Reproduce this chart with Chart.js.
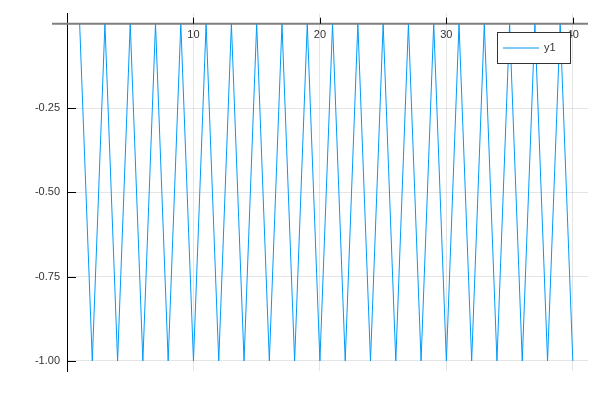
<!DOCTYPE html>
<html>
<head>
<meta charset="utf-8">
<script src="https://cdn.jsdelivr.net/npm/chart.js@4/dist/chart.umd.min.js"></script>
<style>
html,body{margin:0;padding:0;background:#fff;}
#wrap{width:600px;height:400px;}
</style>
</head>
<body>
<div id="wrap"><canvas id="c" width="600" height="400"></canvas></div>
<script>
// ---- data ----
const xValues = [1,2,3,4,5,6,7,8,9,10,11,12,13,14,15,16,17,18,19,20,21,22,23,24,25,26,27,28,29,30,31,32,33,34,35,36,37,38,39,40];
const yValues = [0,-1,0,-1,0,-1,0,-1,0,-1,0,-1,0,-1,0,-1,0,-1,0,-1,0,-1,0,-1,0,-1,0,-1,0,-1,0,-1,0,-1,0,-1,0,-1,0,-1];
const seriesName = 'y1';
const xTicks = [10, 20, 30, 40];
const yTicks = [-0.25, -0.5, -0.75, -1.0];
const yTickLabels = ['-0.25', '-0.50', '-0.75', '-1.00'];

const FONT = '"Liberation Sans", Arial, Helvetica, sans-serif';
const TEXT = '#333333';
const BLUE = '#009AFA';

const decor = {
  id: 'decor',
  afterDatasetsDraw(chart) {
    const ctx = chart.ctx;
    const xs = chart.scales.x, ys = chart.scales.y;
    const ca = chart.chartArea;
    const y0 = ys.getPixelForValue(0);
    ctx.save();
    // zero axis line (extends left past the frame)
    ctx.strokeStyle = '#7f7f7f';
    ctx.lineWidth = 2;
    ctx.beginPath();
    ctx.moveTo(ca.left - 15, y0);
    ctx.lineTo(ca.right, y0);
    ctx.stroke();
    // x tick marks above axis
    ctx.strokeStyle = '#000';
    ctx.lineWidth = 1;
    xTicks.forEach(v => {
      const px = Math.round(xs.getPixelForValue(v)) + 0.5;
      ctx.beginPath();
      ctx.moveTo(px, y0 - 6);
      ctx.lineTo(px, y0);
      ctx.stroke();
    });
    // y tick marks inside
    yTicks.forEach(v => {
      const py = Math.round(ys.getPixelForValue(v)) + 0.5;
      ctx.beginPath();
      ctx.moveTo(ca.left, py);
      ctx.lineTo(ca.left + 9, py);
      ctx.stroke();
    });
    ctx.restore();
  },
  afterDraw(chart) {
    const ctx = chart.ctx;
    const ds = chart.data.datasets[0];
    ctx.save();
    const bx = 497.5, by = 32.5, bw = 73, bh = 31;
    ctx.fillStyle = '#fff';
    ctx.fillRect(bx, by, bw, bh);
    ctx.strokeStyle = '#333';
    ctx.lineWidth = 1;
    ctx.strokeRect(bx, by, bw, bh);
    ctx.strokeStyle = ds.borderColor;
    ctx.lineWidth = 1;
    ctx.beginPath();
    ctx.moveTo(503, 48);
    ctx.lineTo(539, 48);
    ctx.stroke();
    ctx.fillStyle = TEXT;
    ctx.font = '11px ' + FONT;
    ctx.textBaseline = 'middle';
    ctx.textAlign = 'left';
    ctx.fillText(ds.label, 544, 48);
    ctx.restore();
  }
};

new Chart(document.getElementById('c'), {
  type: 'line',
  data: {
    datasets: [{
      label: seriesName,
      data: xValues.map((x, i) => ({x: x, y: yValues[i]})),
      borderColor: BLUE,
      backgroundColor: BLUE,
      borderWidth: 1,
      pointRadius: 0,
      tension: 0,
      fill: false
    }]
  },
  options: {
    responsive: false,
    animation: false,
    devicePixelRatio: 1,
    layout: { padding: { left: 0, top: 12, right: 12, bottom: 29 } },
    plugins: { legend: { display: false }, tooltip: { enabled: false } },
    scales: {
      x: {
        type: 'linear',
        min: 0,
        max: 41.2,
        position: { y: 0 },
        afterBuildTicks: s => { s.ticks = xTicks.map(v => ({value: v})); },
        grid: { color: 'rgba(0,0,0,0.1)', lineWidth: 1, drawTicks: false },
        border: { display: false },
        ticks: { color: TEXT, font: { family: FONT, size: 11 }, padding: 5, maxRotation: 0 }
      },
      y: {
        type: 'linear',
        min: -1.03,
        max: 0.03,
        afterFit: s => { s.width = 67; },
        afterBuildTicks: s => { s.ticks = yTicks.map(v => ({value: v})); },
        grid: { color: 'rgba(0,0,0,0.1)', lineWidth: 1, drawTicks: false },
        border: { display: true, color: '#000', width: 1 },
        ticks: {
          color: TEXT, font: { family: FONT, size: 11 }, padding: 7,
          callback: (v) => { const i = yTicks.indexOf(v); return i >= 0 ? yTickLabels[i] : ''; }
        }
      }
    }
  },
  plugins: [decor]
});
</script>
</body>
</html>
